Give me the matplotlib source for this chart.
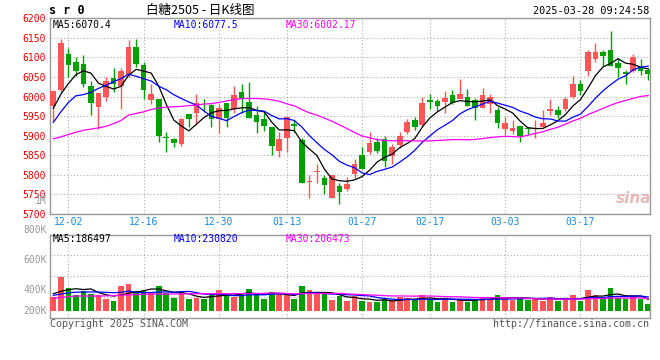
import matplotlib
matplotlib.use("Agg")
import matplotlib.pyplot as plt
import numpy as np

# ---- data: SR505 daily candles, 2024-11-28 .. 2025-03-28 ----
dates = ["11-28", "11-29",
         "12-02", "12-03", "12-04", "12-05", "12-06",
         "12-09", "12-10", "12-11", "12-12", "12-13",
         "12-16", "12-17", "12-18", "12-19", "12-20",
         "12-23", "12-24", "12-25", "12-26", "12-27",
         "12-30", "12-31", "01-02", "01-03",
         "01-06", "01-07", "01-08", "01-09", "01-10",
         "01-13", "01-14", "01-15", "01-16", "01-17",
         "01-20", "01-21", "01-22", "01-23", "01-24",
         "01-27",
         "02-05", "02-06", "02-07",
         "02-10", "02-11", "02-12", "02-13", "02-14",
         "02-17", "02-18", "02-19", "02-20", "02-21",
         "02-24", "02-25", "02-26", "02-27", "02-28",
         "03-03", "03-04", "03-05", "03-06", "03-07",
         "03-10", "03-11", "03-12", "03-13", "03-14",
         "03-17", "03-18", "03-19", "03-20", "03-21",
         "03-24", "03-25", "03-26", "03-27", "03-28"]
tick_dates = ["12-02", "12-16", "12-30", "01-13", "01-27", "02-17", "03-03", "03-17"]

opens = [5977, 6016, 6110, 6088, 6082, 6027, 5974, 6000, 6047, 6028,
         6056, 6126, 6080, 5990, 5995, 5896, 5892, 5880, 5955, 5959,
         5982, 5978, 5942, 5983, 5967, 6011, 5985, 5953, 5942, 5922,
         5862, 5895, 5930, 5890, 5782, 5807, 5791, 5742, 5772, 5764,
         5801, 5851, 5858, 5884, 5891, 5849, 5876, 5910, 5939, 5928,
         5990, 5988, 5987, 6003, 5994, 6000, 5990, 5972, 5980, 5966,
         5917, 5912, 5925, 5919, 5917, 5922, 5964, 5966, 5969, 5999,
         6031, 6066, 6097, 6114, 6119, 6085, 6063, 6066, 6075, 6068]
highs = [6016, 6147, 6125, 6100, 6107, 6041, 6010, 6049, 6072, 6072,
         6144, 6147, 6089, 6033, 5995, 5909, 5895, 5946, 5955, 6006,
         5995, 5980, 5980, 5983, 6028, 6031, 6036, 5977, 5961, 5922,
         5910, 5950, 5939, 5893, 5800, 5828, 5800, 5800, 5778, 5794,
         5841, 5870, 5909, 5895, 5900, 5880, 5909, 5943, 5948, 6000,
         6006, 5995, 6013, 6016, 6044, 6019, 5997, 6022, 6006, 5974,
         5949, 5940, 5925, 5922, 5940, 5965, 5995, 5977, 6000, 6052,
         6042, 6119, 6136, 6119, 6168, 6096, 6069, 6108, 6097, 6072]
lows = [5938, 6012, 6050, 6053, 6025, 5954, 5916, 5988, 6012, 5968,
        6050, 6076, 5995, 5982, 5885, 5858, 5870, 5875, 5923, 5927,
        5961, 5923, 5908, 5923, 5957, 5957, 5946, 5906, 5912, 5851,
        5846, 5859, 5909, 5780, 5742, 5780, 5751, 5742, 5725, 5760,
        5790, 5816, 5854, 5857, 5821, 5829, 5869, 5904, 5914, 5925,
        5968, 5963, 5959, 5981, 5993, 5976, 5940, 5970, 5959, 5919,
        5902, 5904, 5885, 5902, 5895, 5922, 5953, 5944, 5964, 5997,
        6004, 6053, 6089, 6079, 6078, 6051, 6032, 6063, 6055, 6043]
closes = [6014, 6137, 6080, 6066, 6032, 5984, 6009, 6040, 6032, 6066,
          6126, 6084, 6018, 6006, 5900, 5894, 5882, 5943, 5943, 5984,
          5980, 5943, 5970, 5946, 6004, 5993, 5946, 5936, 5926, 5873,
          5892, 5948, 5926, 5780, 5784, 5811, 5773, 5800, 5757, 5777,
          5828, 5816, 5881, 5862, 5836, 5870, 5899, 5935, 5923, 5983,
          5987, 5976, 5996, 5983, 6006, 5977, 5972, 6004, 6000, 5932,
          5933, 5921, 5900, 5917, 5921, 5933, 5967, 5953, 5995, 6032,
          6014, 6114, 6114, 6104, 6078, 6074, 6057, 6100, 6066, 6057]
# volume in thousands of lots
volumes = [231, 561, 380, 269, 330, 285, 259, 198, 165, 413,
           446, 330, 325, 302, 413, 297, 215, 292, 203, 219,
           198, 281, 347, 252, 236, 302, 363, 276, 203, 314,
           281, 281, 203, 413, 347, 292, 276, 182, 248, 165,
           248, 170, 149, 153, 198, 160, 226, 219, 177, 264,
           198, 153, 210, 149, 198, 153, 198, 236, 198, 264,
           215, 177, 231, 186, 215, 165, 231, 165, 198, 264,
           165, 347, 259, 198, 384, 219, 198, 243, 198, 111]

# moving averages before enough bars are on screen
ma5_head = [5970, 6006, 6033, 6056]
ma10_head = [5934, 5961, 5985, 6002, 6005, 6011, 6021, 6029, 6038]
ma30_head = [5892, 5897, 5903, 5909, 5914, 5917, 5920, 5924, 5931, 5939,
             5953, 5957, 5961, 5967, 5971, 5973, 5974, 5975, 5977, 5978,
             5981, 5982, 5985, 5989, 5992, 5995, 5995, 5995, 5994]
vma5_head = [285, 325, 352, 368]
vma10_head = [259, 280, 302, 310, 314, 314, 314, 308, 302]
vma30_head = [215, 225, 236, 248, 248, 248, 248, 250, 255, 262,
              265, 270, 275, 280, 280, 280, 282, 282, 284, 285,
              285, 285, 286, 286, 287, 288, 288, 290, 292]

price_labels = ["MA5:6070.4", "MA10:6077.5", "MA30:6002.17"]
vol_labels = ["MA5:186497", "MA10:230820", "MA30:206473"]
vol_axis_labels = ["1M", "800K", "600K", "400K", "200K"]

RED = "#ff5555"
GREEN = "#00a000"
MONO = "DejaVu Sans Mono"
W, H = 660, 360


def fx(px):
    return px / W


def fy(py):
    return 1 - py / H


def moving_avg(vals, n, head):
    vals = np.asarray(vals, float)
    tail = np.convolve(vals, np.ones(n) / n, mode="valid")
    return np.concatenate([head, tail])


opens, highs, lows, closes = map(np.array, (opens, highs, lows, closes))
volumes = np.array(volumes, float)
x = np.arange(len(closes))
tick_idx = [dates.index(d) for d in tick_dates]
colors = np.where(closes >= opens, RED, GREEN)

fig = plt.figure(figsize=(6.6, 3.6), dpi=100)
ax = fig.add_axes([fx(50), fy(214), fx(600), (214 - 18.3) / H])
axv = fig.add_axes([fx(50), fy(317.7), fx(600), (317.7 - 234.7) / H])

dot = dict(color="#aaaaaa", linestyle=(0, (1, 2)), linewidth=0.8)
for a in (ax, axv):
    a.set_xlim(-0.44, 79.24)
    for s in a.spines.values():
        s.set_color("#999999")
        s.set_linewidth(1)
    a.set_xticks(tick_idx)
    a.grid(True, **dot)
    a.set_axisbelow(True)
    a.tick_params(length=0)

# ---- price panel ----
ax.set_ylim(5700, 6200)
ax.set_yticks(np.arange(5700, 6201, 50))
ax.set_yticklabels([str(v) for v in range(5700, 6201, 50)], color="#ee0000",
                   fontfamily=MONO, fontsize=7)
ax.set_xticklabels(tick_dates, color="#1a8ae0", fontfamily=MONO, fontsize=7)
ax.tick_params(axis="y", pad=3)
ax.tick_params(axis="x", pad=2)

ax.vlines(x, lows, highs, colors=colors, linewidth=1, zorder=3)
ax.bar(x, np.maximum(np.abs(closes - opens), 1.5), bottom=np.minimum(opens, closes),
       width=0.75, color=colors, linewidth=0, zorder=4)

ax.plot(x, moving_avg(closes, 5, ma5_head), color="black", lw=0.9, zorder=5)
ax.plot(x, moving_avg(closes, 10, ma10_head), color="#0000ff", lw=0.9, zorder=5)
ax.plot(x, moving_avg(closes, 30, ma30_head), color="#ff00ff", lw=0.9, zorder=5)

# ---- volume panel ----
vlo, vhi = -110, 1259
axv.set_ylim(vlo, vhi)
axv.set_yticks(np.linspace(vlo, vhi, 5)[1:-1])
axv.set_yticklabels([])
axv.set_xticklabels([])
axv.bar(x, volumes, width=0.75, color=colors, linewidth=0, zorder=3)
axv.plot(x, moving_avg(volumes, 5, vma5_head), color="black", lw=0.9, zorder=5)
axv.plot(x, moving_avg(volumes, 10, vma10_head), color="#0000ff", lw=0.9, zorder=5)
axv.plot(x, moving_avg(volumes, 30, vma30_head), color="#ff00ff", lw=0.9, zorder=5)

# sina puts these labels off the grid lines, copy where they sit
for lab, py in zip(vol_axis_labels, [200.5, 230.3, 260.3, 290.3, 311]):
    fig.text(fx(46.5), fy(py), lab, ha="right", va="center", color="#999999",
             fontfamily=MONO, fontsize=7)

# ---- texts ----
for txt, px, c in zip(price_labels, [53, 174, 286], ["black", "#0000ff", "#ff00ff"]):
    fig.text(fx(px), fy(24.5), txt, color=c, fontfamily=MONO, fontsize=7, va="center")
for txt, px, c in zip(vol_labels, [53, 174, 286], ["black", "#0000ff", "#ff00ff"]):
    fig.text(fx(px), fy(239.5), txt, color=c, fontfamily=MONO, fontsize=7, va="center")

fig.text(fx(49), fy(11), "s r 0", fontfamily=MONO, fontweight="bold", fontsize=8.5,
         va="center")
fig.text(fx(200), fy(10.5), "白糖2505 - 日K线图", ha="center", va="center",
         fontfamily=["Noto Sans CJK SC", "DejaVu Sans"], fontsize=9)
fig.text(fx(649), fy(11.5), "2025-03-28 09:24:58", ha="right", va="center",
         fontfamily=MONO, fontsize=7.3)
fig.text(fx(50), fy(324), "Copyright 2025 SINA.COM", va="center", color="#555555",
         fontfamily=MONO, fontsize=7.2)
fig.text(fx(649), fy(324), "http://finance.sina.com.cn", ha="right", va="center",
         color="#555555", fontfamily=MONO, fontsize=7.2)
fig.text(fx(634), fy(198), "sina", ha="center", va="center", color="#e3a8a8",
         fontstyle="italic", fontweight="bold", fontsize=11, alpha=0.8)

fig.savefig("out.png", dpi=100)
